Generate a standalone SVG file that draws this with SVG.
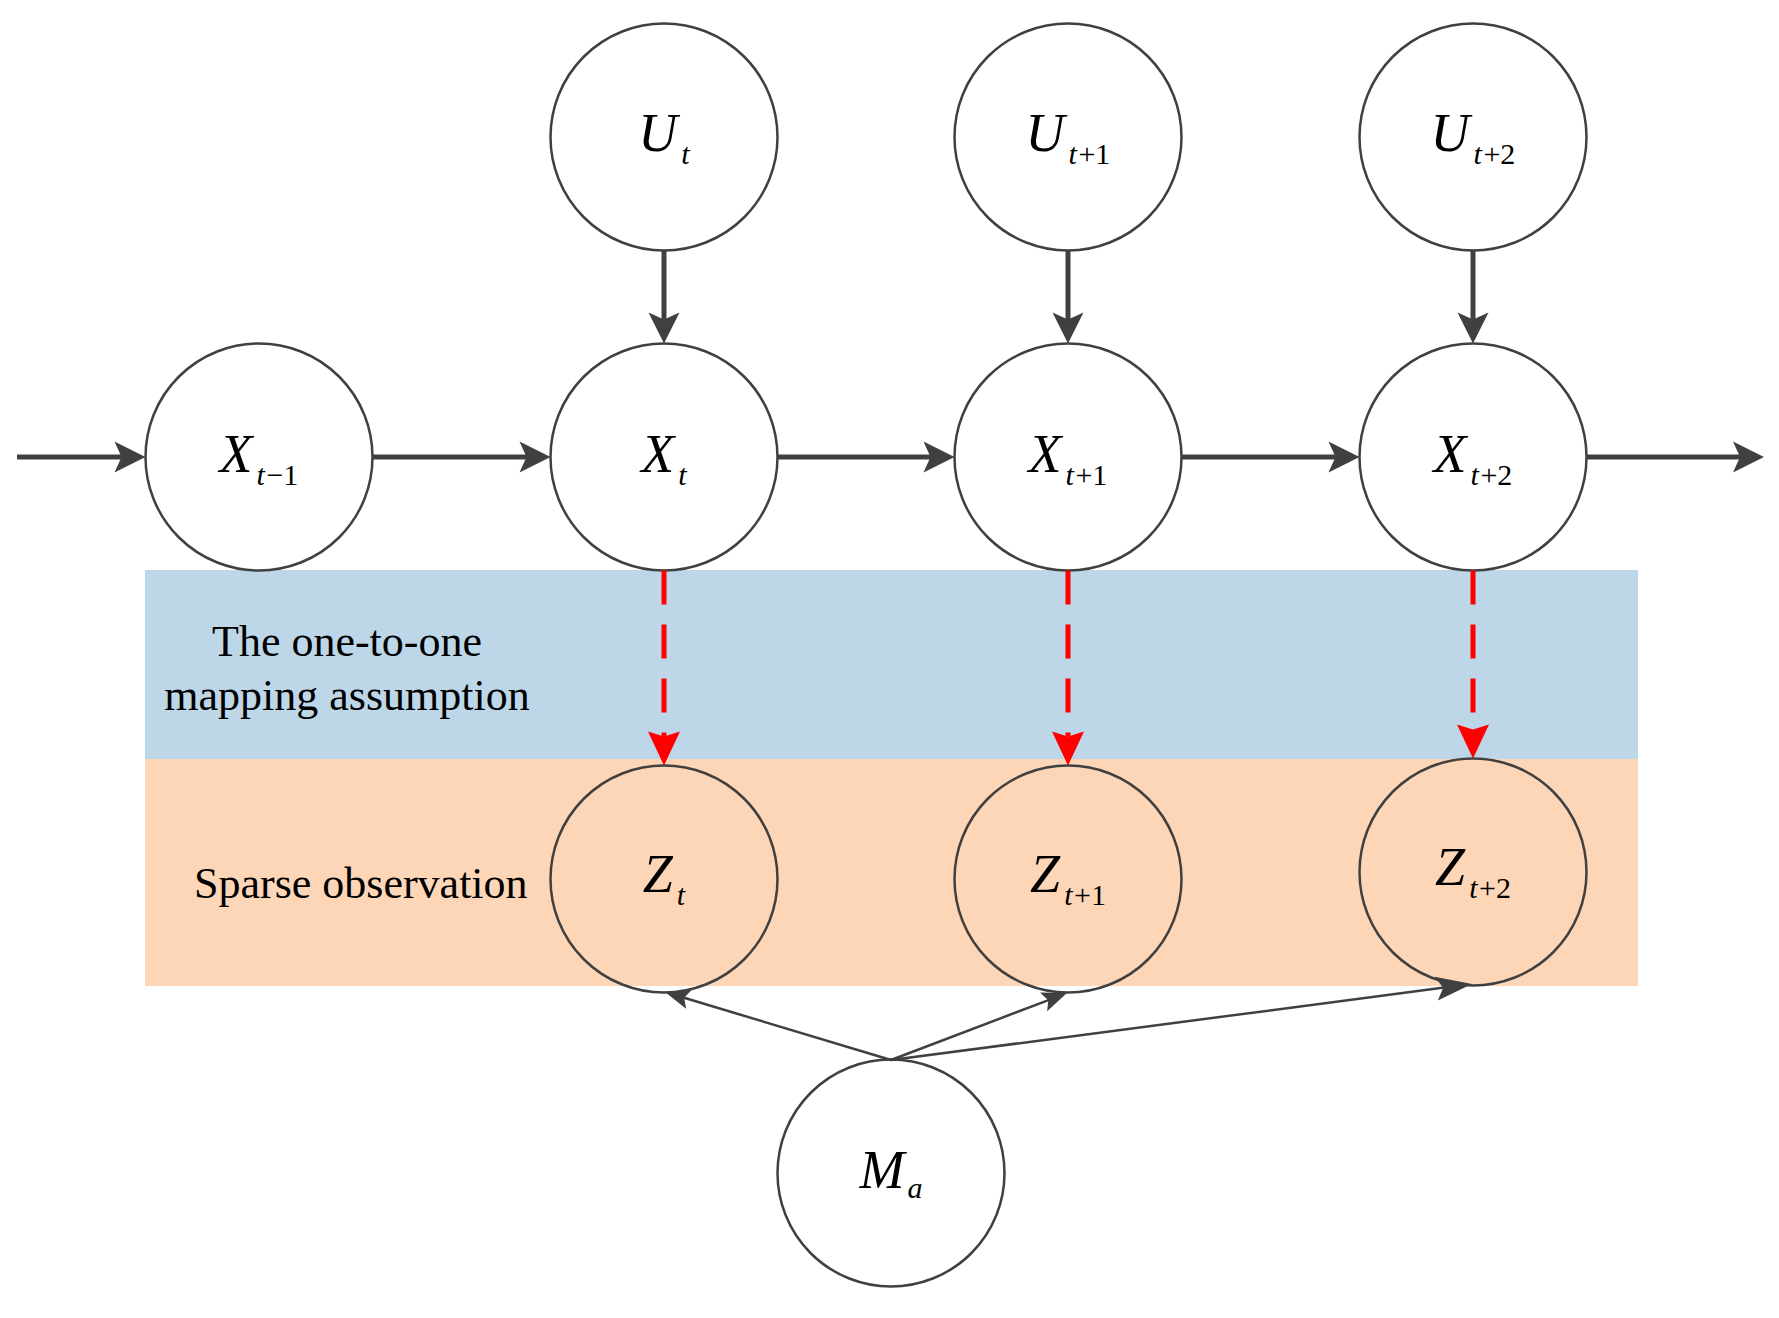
<svg xmlns="http://www.w3.org/2000/svg" width="1779" height="1318" viewBox="0 0 1779 1318">
<style>
.node{stroke:#404040;stroke-width:2.5;fill:#ffffff}
.znode{stroke:#404040;stroke-width:2.5;fill:none}
.lbl{font-family:"Liberation Serif","Times New Roman",serif;font-style:italic;font-size:54px;fill:#000;text-anchor:middle}
.sub{font-size:30px}
.rm{font-style:normal}
.band{font-family:"Liberation Serif","Times New Roman",serif;font-size:44px;fill:#000}
.thick{stroke:#404040;stroke-width:5;fill:none;marker-end:url(#ahThick)}
.red{stroke:#ff0000;stroke-width:5;fill:none;stroke-dasharray:34 20;marker-end:url(#ahRed)}
.thin{stroke:#404040;stroke-width:2.5;fill:none}
</style>
<defs>
<marker id="ahThick" markerUnits="userSpaceOnUse" viewBox="0 -16 32 32" markerWidth="32" markerHeight="32" refX="8" refY="0" orient="auto" overflow="visible">
<path d="M0,-15.5 L31,0 L0,15.5 L7,0 Z" fill="#404040"/>
</marker>
<marker id="ahRed" markerUnits="userSpaceOnUse" viewBox="0 -16 35 32" markerWidth="35" markerHeight="32" refX="5" refY="0" orient="auto" overflow="visible">
<path d="M0,-16 L34,0 L0,16 L5,0 Z" fill="#ff0000"/>
</marker>
<marker id="ahThinS" markerUnits="userSpaceOnUse" viewBox="0 -11 26 22" markerWidth="26" markerHeight="22" refX="6" refY="0" orient="auto" overflow="visible">
<path d="M0,-10 L25,0 L0,10 L5,0 Z" fill="#404040"/>
</marker>
<marker id="ahThinL" markerUnits="userSpaceOnUse" viewBox="0 -13 37 26" markerWidth="37" markerHeight="26" refX="8" refY="0" orient="auto" overflow="visible">
<path d="M0,-12 L36,0 L0,12 L7,0 Z" fill="#404040"/>
</marker>
</defs>

<g id="bands">
<rect id="band-mapping" x="145" y="570" width="1493" height="189" fill="#BDD7E8"/>
<rect id="band-sparse" x="145" y="759" width="1493" height="227" fill="#FDD6B7"/>
<text class="band" x="347" y="656" text-anchor="middle">The one-to-one</text>
<text class="band" x="347" y="710" text-anchor="middle">mapping assumption</text>
<text class="band" x="194" y="898">Sparse observation</text>
</g>

<g id="node-Xtm1">
<circle class="node" cx="259" cy="457" r="113.5"/>
<text class="lbl" x="259" y="472">X<tspan class="sub" dx="4" dy="13">t</tspan><tspan class="sub rm" dx="1.5">−1</tspan></text>
</g>
<g id="node-Xt">
<circle class="node" cx="664" cy="457" r="113.5"/>
<text class="lbl" x="664" y="472">X<tspan class="sub" dx="4" dy="13">t</tspan></text>
</g>
<g id="node-Xt1">
<circle class="node" cx="1068" cy="457" r="113.5"/>
<text class="lbl" x="1068" y="472">X<tspan class="sub" dx="4" dy="13">t</tspan><tspan class="sub rm" dx="1.5">+1</tspan></text>
</g>
<g id="node-Xt2">
<circle class="node" cx="1473" cy="457" r="113.5"/>
<text class="lbl" x="1473" y="472">X<tspan class="sub" dx="4" dy="13">t</tspan><tspan class="sub rm" dx="1.5">+2</tspan></text>
</g>

<g id="node-Ut">
<circle class="node" cx="664" cy="137" r="113.5"/>
<text class="lbl" x="664" y="151">U<tspan class="sub" dx="4" dy="13">t</tspan></text>
</g>
<g id="node-Ut1">
<circle class="node" cx="1068" cy="137" r="113.5"/>
<text class="lbl" x="1068" y="151">U<tspan class="sub" dx="4" dy="13">t</tspan><tspan class="sub rm" dx="1.5">+1</tspan></text>
</g>
<g id="node-Ut2">
<circle class="node" cx="1473" cy="137" r="113.5"/>
<text class="lbl" x="1473" y="151">U<tspan class="sub" dx="4" dy="13">t</tspan><tspan class="sub rm" dx="1.5">+2</tspan></text>
</g>

<g id="node-Zt">
<circle class="znode" cx="664" cy="879" r="113.5"/>
<text class="lbl" x="664" y="892">Z<tspan class="sub" dx="4" dy="13">t</tspan></text>
</g>
<g id="node-Zt1">
<circle class="znode" cx="1068" cy="879" r="113.5"/>
<text class="lbl" x="1068" y="892">Z<tspan class="sub" dx="4" dy="13">t</tspan><tspan class="sub rm" dx="1.5">+1</tspan></text>
</g>
<g id="node-Zt2">
<circle class="znode" cx="1473" cy="872" r="113.5"/>
<text class="lbl" x="1473" y="885">Z<tspan class="sub" dx="4" dy="13">t</tspan><tspan class="sub rm" dx="1.5">+2</tspan></text>
</g>

<g id="node-Ma">
<circle class="node" cx="891" cy="1173" r="113.5"/>
<text class="lbl" x="891" y="1188">M<tspan class="sub" dx="3" dy="10">a</tspan></text>
</g>

<g id="connectors">
<line class="thick" x1="17" y1="457" x2="122.5" y2="457"/>
<line class="thick" x1="372.5" y1="457" x2="527.5" y2="457"/>
<line class="thick" x1="777.5" y1="457" x2="931.5" y2="457"/>
<line class="thick" x1="1181.5" y1="457" x2="1336.5" y2="457"/>
<line class="thick" x1="1586.5" y1="457" x2="1741" y2="457"/>
<line class="thick" x1="664" y1="250.5" x2="664" y2="320.5"/>
<line class="thick" x1="1068" y1="250.5" x2="1068" y2="320.5"/>
<line class="thick" x1="1473" y1="250.5" x2="1473" y2="320.5"/>
<line class="red" x1="664" y1="570.5" x2="664" y2="736.5"/>
<line class="red" x1="1068" y1="570.5" x2="1068" y2="736.5"/>
<line class="red" x1="1473" y1="570.5" x2="1473" y2="729.5"/>
<line class="thin" x1="891" y1="1060" x2="683.2" y2="997.5" marker-end="url(#ahThinS)"/>
<line class="thin" x1="891" y1="1060" x2="1049.2" y2="999.8" marker-end="url(#ahThinS)"/>
<line class="thin" x1="891" y1="1060" x2="1444.2" y2="987.6" marker-end="url(#ahThinL)"/>
</g>
</svg>
